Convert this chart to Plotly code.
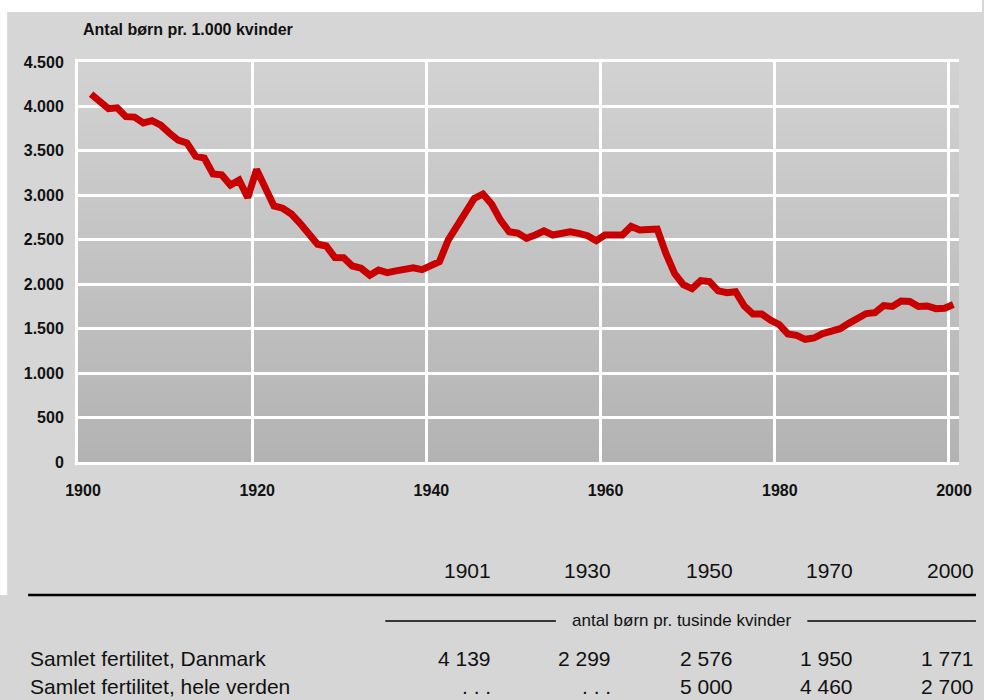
import plotly.graph_objects as go

# ---------------- data ----------------
years = list(range(1901, 2001))
births_per_1000 = [
    4139, 4065, 3975, 3985, 3885, 3880, 3815, 3840, 3790, 3700,
    3620, 3590, 3440, 3420, 3240, 3230, 3115, 3170, 2975, 3290,
    3100, 2880, 2855, 2790, 2685, 2580, 2450, 2430, 2300, 2299,
    2205, 2180, 2100, 2160, 2130, 2150, 2165, 2185, 2165, 2215,
    2255, 2495, 2650, 2830, 2965, 3015, 2900, 2720, 2590, 2576,
    2516, 2554, 2600, 2554, 2580, 2590, 2572, 2546, 2490, 2554,
    2554, 2554, 2650, 2610, 2615, 2620, 2347, 2120, 1995, 1950,
    2040, 2030, 1925, 1905, 1915, 1755, 1665, 1665, 1597, 1545,
    1440, 1425, 1380, 1395, 1445, 1480, 1500, 1560, 1620, 1670,
    1680, 1760, 1750, 1810, 1805, 1750, 1755, 1725, 1730, 1771,
]
y_ticks = [0, 500, 1000, 1500, 2000, 2500, 3000, 3500, 4000, 4500]
x_ticks = [1900, 1920, 1940, 1960, 1980, 2000]

title_text = "Antal børn pr. 1.000 kvinder"
table_years = ["1901", "1930", "1950", "1970", "2000"]
table_unit = "antal børn pr. tusinde kvinder"
row_labels = ["Samlet fertilitet, Danmark", "Samlet fertilitet, hele verden"]
row_denmark = ["4 139", "2 299", "2 576", "1 950", "1 771"]
row_world = [". . .", ". . .", "5 000", "4 460", "2 700"]

# ---------------- layout geometry ----------------
W, H = 984, 700
PL, PR, PT, PB = 78, 961, 62, 462  # plot area in pixels


def fx(px):
    return (px - PL) / (PR - PL)


def fy(py):
    return (PB - py) / (PB - PT)


fig = go.Figure()

# mid-year placement of annual values
fig.add_trace(go.Scatter(
    x=[y + 0.5 for y in years],
    y=births_per_1000,
    mode="lines",
    line=dict(color="#c80000", width=7),
    hoverinfo="skip",
    showlegend=False,
))

shapes = []
# white page strips (top and left)
shapes.append(dict(type="rect", xref="paper", yref="paper", layer="below",
                   x0=fx(0), x1=fx(W), y0=fy(12), y1=fy(0),
                   fillcolor="white", line=dict(width=0)))
shapes.append(dict(type="rect", xref="paper", yref="paper", layer="below",
                   x0=fx(0), x1=fx(7), y0=fy(595), y1=fy(0),
                   fillcolor="white", line=dict(width=0)))
# plot-area vertical gradient
N = 40
top_c, bot_c = 0xd2, 0xb3
for i in range(N):
    t = (i + 0.5) / N
    c = round(bot_c + (top_c - bot_c) * t)
    shapes.append(dict(type="rect", xref="paper", yref="paper", layer="below",
                       x0=0, x1=1, y0=i / N, y1=(i + 1) / N + 0.002,
                       fillcolor=f"rgb({c},{c},{c})", line=dict(width=0)))
# table rules
shapes.append(dict(type="line", xref="paper", yref="paper",
                   x0=fx(28), x1=fx(978), y0=fy(595), y1=fy(595),
                   line=dict(color="black", width=2.5)))
shapes.append(dict(type="line", xref="paper", yref="paper",
                   x0=fx(386), x1=fx(557), y0=fy(621), y1=fy(621),
                   line=dict(color="black", width=1.5)))
shapes.append(dict(type="line", xref="paper", yref="paper",
                   x0=fx(809), x1=fx(978), y0=fy(621), y1=fy(621),
                   line=dict(color="black", width=1.5)))

ann = []
ann.append(dict(text=f"<b>{title_text}</b>", xref="paper", yref="paper",
                x=fx(81), y=fy(30), xanchor="left", yanchor="middle",
                showarrow=False, font=dict(size=16, color="#111")))

tfont = dict(family="Liberation Sans, Arial, sans-serif", size=21, color="#111")
col_right = [494, 614, 736, 857, 978]
for i, yr in enumerate(table_years):
    ann.append(dict(text=yr, xref="paper", yref="paper", x=fx(col_right[i]), y=fy(570),
                    xanchor="right", yanchor="middle", showarrow=False, font=tfont))
    ann.append(dict(text=row_denmark[i], xref="paper", yref="paper", x=fx(col_right[i]), y=fy(658),
                    xanchor="right", yanchor="middle", showarrow=False, font=tfont))
    ann.append(dict(text=row_world[i], xref="paper", yref="paper", x=fx(col_right[i]), y=fy(686),
                    xanchor="right", yanchor="middle", showarrow=False, font=tfont))
ann.append(dict(text=table_unit, xref="paper", yref="paper", x=fx(683), y=fy(620),
                xanchor="center", yanchor="middle", showarrow=False,
                font=dict(family="Liberation Sans, Arial, sans-serif", size=17, color="#111")))
for j, lab in enumerate(row_labels):
    ann.append(dict(text=lab, xref="paper", yref="paper", x=fx(28), y=fy(658 + 28 * j),
                    xanchor="left", yanchor="middle", showarrow=False, font=tfont))

axis_font = dict(family="Liberation Sans, Arial, sans-serif", size=16, color="#111", weight="bold")

fig.update_layout(
    width=W, height=H,
    margin=dict(l=PL, r=W - PR, t=PT, b=H - PB, pad=0),
    paper_bgcolor="#d6d6d6",
    plot_bgcolor="rgba(0,0,0,0)",
    separators=",.",
    font=dict(family="Liberation Sans, Arial, sans-serif", color="#111"),
    shapes=shapes,
    annotations=ann,
    showlegend=False,
    xaxis=dict(
        range=[1900, 2001.15], tickvals=x_ticks, ticktext=[str(v) for v in x_ticks],
        showgrid=True, gridcolor="white", gridwidth=2.5,
        showline=True, mirror=True, linecolor="white", linewidth=3,
        zeroline=False, ticks="", ticklabelstandoff=12, ticklabelshift=5,
        tickfont=axis_font, fixedrange=True,
    ),
    yaxis=dict(
        range=[0, 4500], tickvals=y_ticks, tickformat=",d",
        showgrid=True, gridcolor="white", gridwidth=2.5,
        showline=True, linecolor="white", linewidth=3,
        zeroline=False, ticks="", ticklabelstandoff=8,
        tickfont=axis_font, fixedrange=True,
    ),
)

fig.write_html(
    "out.html",
    config={"displayModeBar": False},
    post_script="document.body.style.margin='0';document.body.style.overflow='hidden';",
)
